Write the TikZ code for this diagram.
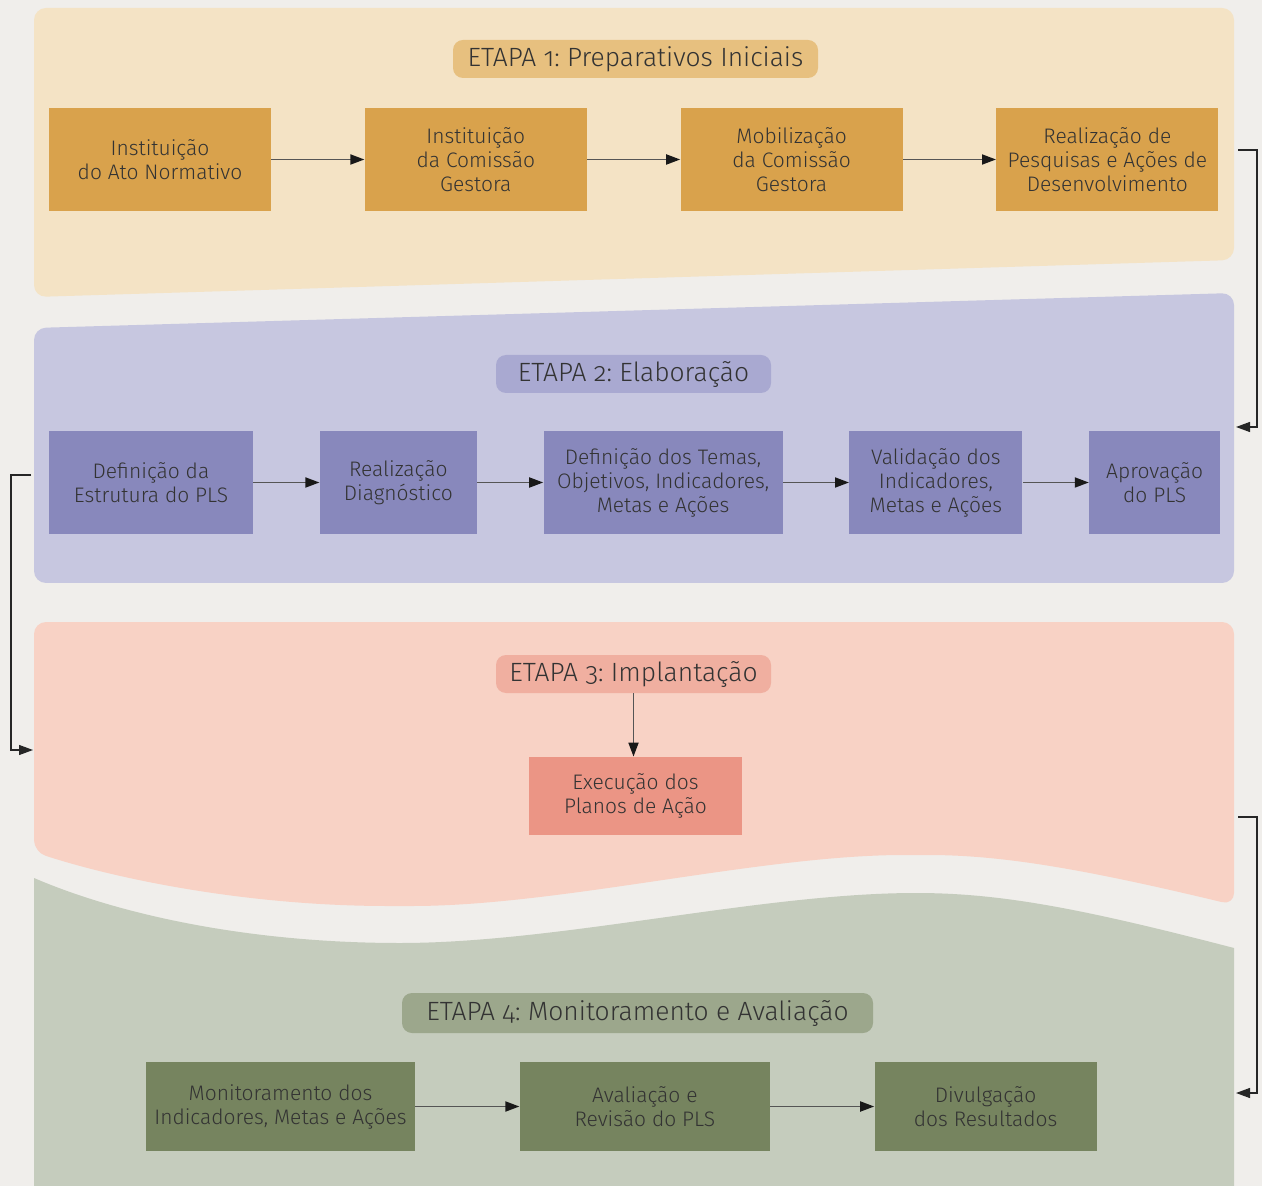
\documentclass[tikz,border=0pt]{standalone}
\usepackage{fontspec}
\setmainfont{Fira Sans}[UprightFont={* Light}, Numbers=OldStyle]
\usetikzlibrary{positioning,arrows.meta}
\frenchspacing

\definecolor{paper}{HTML}{F0EEEB}
\definecolor{ink}{HTML}{333333}
\definecolor{linha}{HTML}{555555}
\definecolor{fundoA}{HTML}{F4E3C5}
\definecolor{tituloA}{HTML}{E7C07F}
\definecolor{caixaA}{HTML}{D9A24C}
\definecolor{fundoB}{HTML}{C7C7E0}
\definecolor{tituloB}{HTML}{A9A9D1}
\definecolor{caixaB}{HTML}{8888BC}
\definecolor{fundoC}{HTML}{F8D2C5}
\definecolor{tituloC}{HTML}{F0AFA0}
\definecolor{caixaC}{HTML}{EB9585}
\definecolor{fundoD}{HTML}{C5CCBD}
\definecolor{tituloD}{HTML}{9CA78C}
\definecolor{caixaD}{HTML}{76845F}

\tikzstyle{etapa} = [rounded corners=5pt, minimum height=19pt, inner sep=0pt, text=ink, font=\fontsize{13.2}{15}\selectfont]
\tikzstyle{passo} = [minimum height=51.5pt, inner sep=2pt, align=center, text=ink, font=\fontsize{10.5}{12}\selectfont]
\tikzstyle{seta} = [draw=linha, line width=0.9pt, -{Triangle[length=7pt,width=5pt,color=black!90]}]
\tikzstyle{volta} = [draw=black!85, line width=0.6pt, -{Triangle[length=7pt,width=5pt]}]

\begin{document}
\begin{tikzpicture}[x=0.5pt,y=-0.5pt]
\useasboundingbox (0,0) rectangle (1262,1186);
\fill[paper] (0,0) rectangle (1262,1186);

% faixas de fundo
\fill[fundoA, rounded corners=6pt] (34,8) -- (1234,8) -- (1234,260) -- (34,297) -- cycle;
\fill[fundoB, rounded corners=6pt] (34,328) -- (1234,293) -- (1234,583) -- (34,583) -- cycle;
\fill[fundoC, rounded corners=6pt] (34,622) -- (1234,622) -- (1234,905)
  .. controls (1080,868) and (1000,855) .. (916,855)
  .. controls (760,855) and (560,906) .. (400,906)
  .. controls (250,906) and (120,880) .. (34,852) -- cycle;
\fill[fundoD] (34,878) .. controls (120,915) and (250,943) .. (400,943)
  .. controls (560,943) and (760,893) .. (916,893)
  .. controls (1000,893) and (1080,908) .. (1234,948)
  -- (1234,1186) -- (34,1186) -- cycle;

% etapa 1
\node[etapa, fill=tituloA, minimum width=182.5pt] (t1) at (635.5,59) {ETAPA 1: Preparativos Iniciais};
\node[passo, fill=caixaA, minimum width=111pt] (s11) at (160,159.5) {Instituição\\do Ato Normativo};
\node[passo, fill=caixaA, minimum width=111pt, right=46.5pt of s11] (s12) {Instituição\\da Comissão\\Gestora};
\node[passo, fill=caixaA, minimum width=111pt, right=46.5pt of s12] (s13) {Mobilização\\da Comissão\\Gestora};
\node[passo, fill=caixaA, minimum width=111pt, right=46.5pt of s13] (s14) {Realização de\\Pesquisas e  Ações de\\Desenvolvimento};

% etapa 2
\node[etapa, fill=tituloB, minimum width=137.5pt] (t2) at (633.5,374) {ETAPA 2: Elaboração};
\node[passo, fill=caixaB, minimum width=102pt] (s21) at (151,482.5) {Definição da\\Estrutura do PLS};
\node[passo, fill=caixaB, minimum width=78.5pt, right=33pt of s21] (s22) {Realização\\Diagnóstico};
\node[passo, fill=caixaB, minimum width=119.5pt, right=33pt of s22] (s23) {Definição dos Temas,\\Objetivos, Indicadores,\\Metas e Ações};
\node[passo, fill=caixaB, minimum width=86.5pt, right=33pt of s23] (s24) {Validação dos\\Indicadores,\\Metas e Ações};
\node[passo, fill=caixaB, minimum width=65.5pt, right=33pt of s24] (s25) {Aprovação\\do PLS};

% etapa 3
\node[etapa, fill=tituloC, minimum width=137.5pt] (t3) at (633.5,674) {ETAPA 3: Implantação};
\node[passo, fill=caixaC, minimum width=106.5pt, minimum height=39pt] (s31) at (635.5,796) {Execução dos\\Planos de Ação};

% etapa 4
\node[etapa, fill=tituloD, minimum width=235.5pt, minimum height=20pt] (t4) at (637.5,1013) {ETAPA 4: Monitoramento e Avaliação};
\node[passo, fill=caixaD, minimum width=134.5pt, minimum height=44.5pt] (s41) at (280.5,1106.5) {Monitoramento dos\\Indicadores, Metas e Ações};
\node[passo, fill=caixaD, minimum width=125pt, minimum height=44.5pt, right=52pt of s41] (s42) {Avaliação e\\Revisão do PLS};
\node[passo, fill=caixaD, minimum width=111pt, minimum height=44.5pt, right=52pt of s42] (s43) {Divulgação\\dos Resultados};

\draw[seta] (s11) -- (s12);
\draw[seta] (s12) -- (s13);
\draw[seta] (s13) -- (s14);
\draw[seta] (s21) -- (s22);
\draw[seta] (s22) -- (s23);
\draw[seta] (s23) -- (s24);
\draw[seta] (s24) -- (s25);
\draw[seta] (t3) -- (t3 |- s31.north);
\draw[seta] (s41) -- (s42);
\draw[seta] (s42) -- (s43);

% ligações entre etapas
\coordinate (v1a) at (1238,150);
\coordinate (v1b) at (1236,427);
\coordinate (v2a) at (31,475);
\coordinate (v2b) at (33,750);
\coordinate (v3a) at (1238,817);
\coordinate (v3b) at (1236,1093);
\draw[volta] (v1a) -- (1257,150) |- (v1b);
\draw[volta] (v2a) -- (11,475) |- (v2b);
\draw[volta] (v3a) -- (1257,817) |- (v3b);
\end{tikzpicture}
\end{document}
